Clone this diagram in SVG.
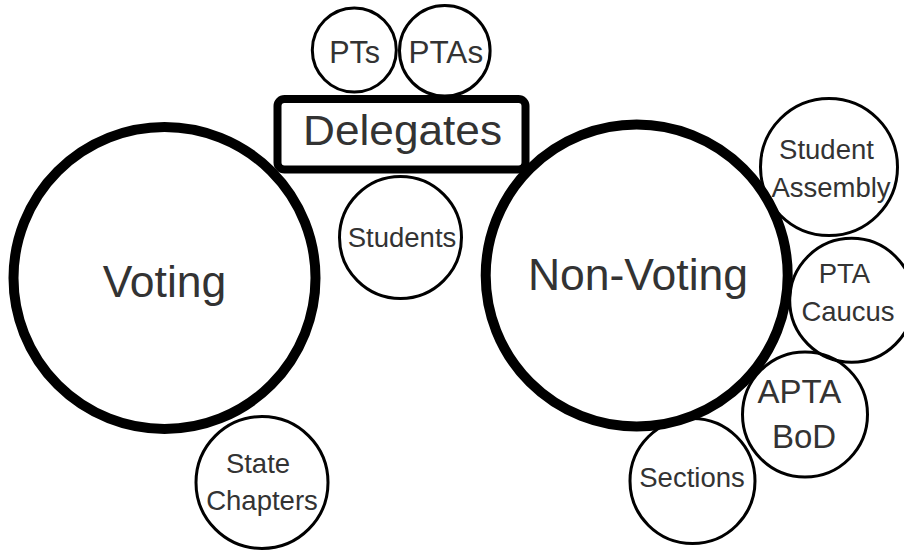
<svg xmlns="http://www.w3.org/2000/svg" width="904" height="551" viewBox="0 0 904 551">
<style>
.big{fill:none;stroke:#000;stroke-width:10}
.small{fill:none;stroke:#000;stroke-width:3}
.box{fill:#fff;stroke:#000;stroke-width:8}
text{font-family:"Liberation Sans",Arial,sans-serif;fill:#333;text-anchor:middle}
.l{font-size:44.5px}
.m{font-size:27.5px}
</style>
<rect width="904" height="551" fill="#fff"/>
<g id="connectors"/>
<g id="voting">
<circle class="big" cx="164.5" cy="278" r="151"/>
<text class="l" x="164.5" y="296.5">Voting</text>
</g>
<g id="non-voting">
<circle class="big" cx="636.7" cy="275.5" r="151"/>
<text class="l" x="638" y="290">Non-Voting</text>
</g>
<g id="delegates">
<rect class="box" x="277.5" y="99" width="248" height="70.5" rx="7"/>
<text x="402.5" y="145" font-size="43" textLength="199" lengthAdjust="spacingAndGlyphs">Delegates</text>
</g>
<g id="pts">
<circle class="small" cx="354.3" cy="50" r="42"/>
<text x="354.7" y="62.5" font-size="30.5">PTs</text>
</g>
<g id="ptas">
<circle class="small" cx="444.8" cy="50.8" r="45.3"/>
<text x="445.8" y="62.5" font-size="31.5">PTAs</text>
</g>
<g id="students">
<circle class="small" cx="400.5" cy="237.5" r="61"/>
<text class="m" x="402" y="246.7">Students</text>
</g>
<g id="student-assembly">
<circle class="small" cx="829" cy="167" r="68.5"/>
<text class="m" x="826.5" y="159">Student</text>
<text class="m" x="831" y="196.7">Assembly</text>
</g>
<g id="pta-caucus">
<circle class="small" cx="851.7" cy="300.3" r="62"/>
<text class="m" x="844.5" y="282.7">PTA</text>
<text class="m" x="848" y="320.7">Caucus</text>
</g>
<g id="apta-bod">
<circle class="small" cx="805" cy="414.5" r="62.5"/>
<text x="799.3" y="403.3" font-size="33">APTA</text>
<text x="804" y="448.3" font-size="33">BoD</text>
</g>
<g id="sections">
<circle class="small" cx="692.5" cy="481" r="62.5"/>
<text class="m" x="692" y="486.7">Sections</text>
</g>
<g id="state-chapters">
<circle class="small" cx="262" cy="482.5" r="66"/>
<text class="m" x="258" y="472.7">State</text>
<text class="m" x="262" y="510">Chapters</text>
</g>
</svg>
